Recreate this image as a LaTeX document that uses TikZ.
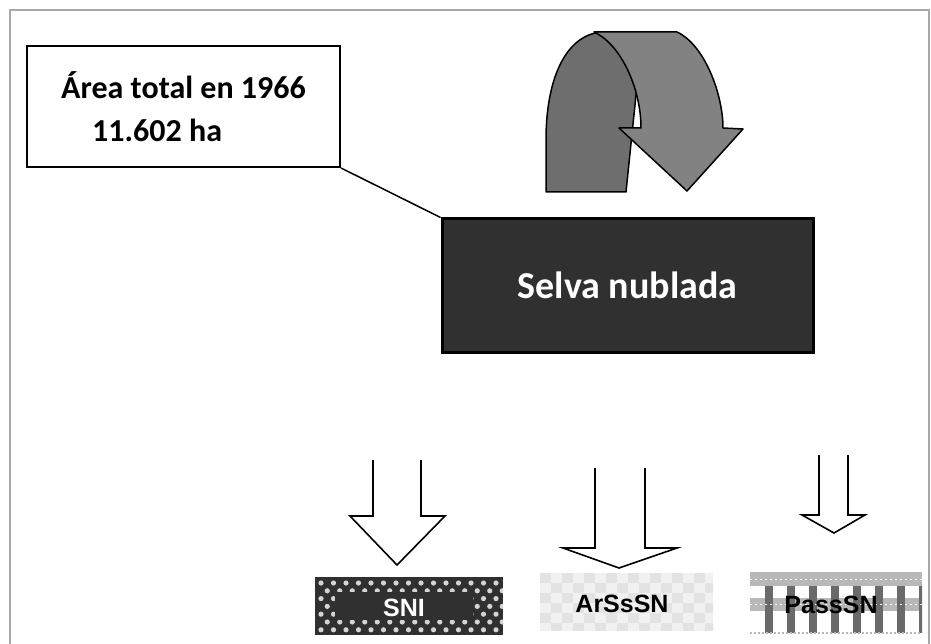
\documentclass[tikz,border=0pt]{standalone}
\usepackage{fontspec}
\setmainfont{Carlito}
\newfontfamily\labfont{Liberation Sans}
\definecolor{framegray}{HTML}{A8A8A8}
\definecolor{darkbox}{HTML}{303030}
\definecolor{bandA}{HTML}{6E6E6E}
\definecolor{bandB}{HTML}{828282}
\definecolor{dotgray}{HTML}{D4D4D4}
\definecolor{checkA}{HTML}{E3E3E3}
\definecolor{checkB}{HTML}{F1F1F1}
\definecolor{stripe}{HTML}{6A6A6A}
\definecolor{weave}{HTML}{B8B8B8}
\tikzset{
  callout/.style={draw=black, line width=2pt, fill=white, minimum width=313pt, minimum height=121pt, inner sep=0pt,
    font=\fontsize{32}{43}\selectfont\bfseries, align=left},
  selvabox/.style={draw=black, line width=3pt, fill=darkbox, minimum width=371pt, minimum height=133pt,
    text=white, font=\fontsize{38}{44}\selectfont\bfseries},
  openarrow/.style={draw=black, line width=1.6pt, fill=white, line join=miter},
  uturn/.style={draw=black, line width=1.5pt, line join=round},
  boxlabel/.style={inner sep=0pt, font=\labfont\fontsize{25}{28}\selectfont\bfseries},
}
\begin{document}
\begin{tikzpicture}[x=1pt,y=-1pt]
\useasboundingbox (0,0) rectangle (931,644);
% frame
\draw[framegray, line width=2pt] (10,650) -- (10,10) -- (929,10) -- (929,650);

% callout
\node[callout] (area) at (183.5,106.5) {Área total en 1966\\\hspace*{31pt}11.602 ha};
% main box
\node[selvabox] (selva) at (627.5,285.5) {Selva nublada};
\draw[line width=1.5pt] (area.south east) -- (selva.north west);

% U-turn arrow
\draw[uturn, fill=bandA] (546,192) -- (546,140) .. controls (546,75) and (568,32) .. (605,32)
   -- (645,40) -- (636,95) -- (626,192) -- cycle;
\draw[uturn, fill=bandB] (594,32) -- (677,32) .. controls (705,45) and (723,95) .. (723,128)
   -- (743,129) -- (687,191) -- (619,128) -- (641,128) .. controls (641,90) and (622,45) .. (594,32) -- cycle;

% open block arrows
\draw[openarrow] (373,460) -- (373,516) -- (350,516) -- (397,565) -- (445,516) -- (421,516) -- (421,460);
\draw[openarrow] (595,468) -- (595,548) -- (563,548) -- (619,568) -- (677,548) -- (645,548) -- (645,468);
\draw[openarrow] (819,455) -- (819,515) -- (802,515) -- (834,533) -- (865,515) -- (848,515) -- (848,455);

% SNI box pattern
\begin{scope}
  \clip (315,577) rectangle (503,635);
  \fill[darkbox] (315,577) rectangle (503,635);
  \foreach \r in {0,...,6}{
    \pgfmathsetmacro{\yy}{583+\r*7.8}
    \pgfmathsetmacro{\off}{mod(\r,2)*6.25}
    \foreach \c in {0,...,15}{
      \fill[dotgray] (321+\off+\c*12.5,\yy) circle (2.6);
    }
  }
  \fill[darkbox] (335,592) rectangle (473,620);
\end{scope}
% ArSsSN box pattern
\begin{scope}
  \clip (540,573) rectangle (713,630);
  \foreach \i in {0,...,15}{
    \foreach \j in {0,...,5}{
      \pgfmathtruncatemacro{\parity}{mod(\i+\j,2)}
      \ifnum\parity=0
        \fill[checkA] (540+\i*11,573+\j*10) rectangle +(11,10);
      \else
        \fill[checkB] (540+\i*11,573+\j*10) rectangle +(11,10);
      \fi
    }
  }
\end{scope}
% PassSN box pattern
\begin{scope}
  \clip (750,572) rectangle (922,635);
  \fill[weave] (750,572) rectangle (922,586);
  \fill[weave] (750,598) rectangle (922,611);
  \foreach \x in {765,787,...,919}{
    \fill[stripe] (\x,586) rectangle +(8,47);
  }
  \draw[weave, line width=2pt, dash pattern=on 2pt off 2pt] (750,633) -- (922,633);
  \draw[white, line width=1pt, dash pattern=on 2pt off 3pt] (750,579) -- (922,579);
  \draw[white, line width=1pt, dash pattern=on 2pt off 3pt] (750,604.5) -- (922,604.5);
\end{scope}

% labels
\node[boxlabel, text=white] (sni) at (404,608) {SNI};
\node[boxlabel, text=black] (arss) at (622,604) {ArSsSN};
\node[boxlabel, text=black] (pass) at (831,605) {PassSN};
\end{tikzpicture}
\end{document}
